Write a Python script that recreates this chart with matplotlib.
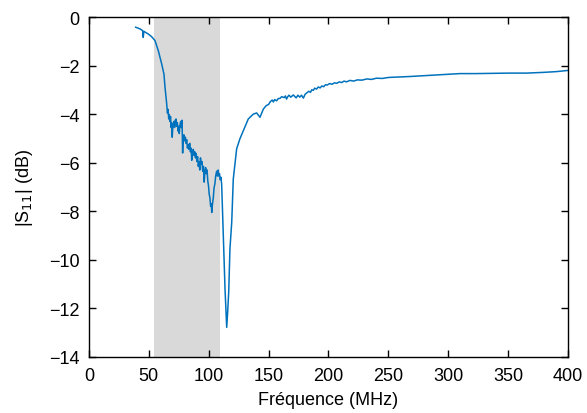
import matplotlib
matplotlib.use('Agg')
import matplotlib.pyplot as plt

# values
freq_mhz = [39.0, 42.6, 44.8, 45.3, 45.8, 49.5, 52.3, 55.1, 57.9, 60.7,
            62.6, 63.5, 64.9, 65.5, 66.0, 66.6, 67.1, 67.6, 68.1, 68.6,
            69.0, 69.5, 69.9, 70.4, 71.0, 71.5, 72.0, 72.7, 73.2, 73.8,
            74.4, 75.0, 75.4, 76.0, 76.6, 77.2, 77.7, 78.2, 78.7, 79.3,
            79.9, 80.5, 81.0, 81.6, 82.2, 82.9, 83.5, 84.1, 84.7, 85.3,
            85.8, 86.4, 87.1, 87.7, 88.3, 88.9, 89.5, 90.1, 90.7, 91.3,
            91.9, 92.5, 93.1, 93.7, 94.3, 95.0, 95.6, 96.2, 96.8, 97.4,
            98.0, 98.6, 99.2, 99.8, 100.4, 101.0, 101.6, 102.2, 102.5, 103.0,
            103.8, 104.4, 105.2, 105.8, 106.6, 107.2, 107.8, 108.4, 109.0, 109.6,
            110.2, 110.8, 112.7, 113.6, 114.4, 115.0, 115.8, 116.7, 117.7, 119.2,
            120.5, 123.3, 126.0, 128.9, 133.0, 137.2, 140.0, 142.8, 145.6, 148.0,
            150.0, 151.5, 153.0, 154.0, 155.0, 156.7, 158.0, 159.5, 161.0, 163.0,
            164.0, 165.0, 166.0, 167.0, 168.5, 170.6, 172.0, 173.0, 174.5, 176.0,
            177.5, 179.0, 180.5, 182.0, 183.5, 185.0, 186.0, 187.3, 188.5, 190.0,
            191.5, 193.0, 194.5, 196.0, 197.5, 199.0, 201.0, 203.0, 205.0, 207.0,
            209.0, 211.0, 213.0, 215.0, 218.0, 221.0, 224.0, 228.0, 232.0, 236.0,
            240.0, 245.0, 250.0, 254.0, 268.0, 282.0, 296.0, 309.8, 323.0, 337.6,
            351.0, 365.5, 379.4, 390.0, 400.0]
s11_db = [-0.42, -0.49, -0.56, -0.84, -0.59, -0.70, -0.81, -0.97, -1.39, -1.93,
          -2.35, -2.90, -3.58, -3.95, -3.80, -4.20, -4.02, -4.30, -4.10, -4.55,
          -4.35, -4.95, -4.60, -4.45, -4.30, -4.55, -4.25, -4.20, -4.50, -4.35,
          -4.70, -4.50, -4.80, -4.45, -4.30, -4.55, -4.25, -5.60, -4.95, -4.85,
          -5.10, -4.95, -5.20, -5.05, -5.40, -5.25, -5.45, -5.20, -5.55, -5.40,
          -5.90, -5.55, -5.45, -5.70, -5.55, -5.80, -5.62, -5.95, -5.75, -6.15,
          -5.95, -6.30, -5.80, -6.05, -5.95, -6.35, -6.15, -6.80, -6.40, -6.20,
          -6.45, -6.30, -6.75, -6.95, -7.30, -7.45, -7.80, -7.70, -8.05, -7.75,
          -7.45, -7.05, -6.85, -6.55, -6.35, -6.55, -6.30, -6.55, -6.45, -6.70,
          -6.60, -6.90, -9.83, -11.20, -12.15, -12.78, -12.15, -11.30, -9.55, -8.45,
          -6.67, -5.43, -5.02, -4.68, -4.20, -4.00, -3.95, -4.13, -3.79, -3.65,
          -3.60, -3.48, -3.42, -3.50, -3.40, -3.45, -3.36, -3.35, -3.28, -3.32,
          -3.25, -3.38, -3.28, -3.22, -3.30, -3.21, -3.28, -3.33, -3.22, -3.30,
          -3.22, -3.34, -3.18, -3.12, -3.06, -3.10, -3.00, -3.02, -2.93, -2.97,
          -2.88, -2.92, -2.84, -2.87, -2.79, -2.80, -2.74, -2.77, -2.71, -2.73,
          -2.67, -2.70, -2.64, -2.67, -2.61, -2.64, -2.59, -2.60, -2.55, -2.57,
          -2.52, -2.53, -2.49, -2.48, -2.45, -2.41, -2.37, -2.33, -2.33, -2.32,
          -2.31, -2.31, -2.28, -2.25, -2.20]

band_start = 54
band_stop = 109

x_ticks = [0, 50, 100, 150, 200, 250, 300, 350, 400]
y_ticks = [0, -2, -4, -6, -8, -10, -12, -14]

plt.rcParams['font.family'] = ['Liberation Sans', 'DejaVu Sans']

fig = plt.figure(figsize=(5.87, 4.14), dpi=100)
ax = fig.add_axes([0.1516, 0.1353, 0.8160, 0.8212])

ax.axvspan(band_start, band_stop, color='#d9d9d9', lw=0, zorder=0)
ax.plot(freq_mhz, s11_db, color='#0072BD', lw=1.1)

ax.set_xlim(0, 400)
ax.set_ylim(-14, 0)
ax.set_xticks(x_ticks)
ax.set_yticks(y_ticks)
ax.tick_params(direction='in', top=True, right=True, length=5, width=1,
               labelsize=13, pad=7)
for s in ax.spines.values():
    s.set_linewidth(1)
ax.set_xlabel('Fréquence (MHz)', fontsize=13, labelpad=5)
ax.set_ylabel('|S$_{11}$| (dB)', fontsize=13, labelpad=10)

fig.savefig('out.png', dpi=100)
